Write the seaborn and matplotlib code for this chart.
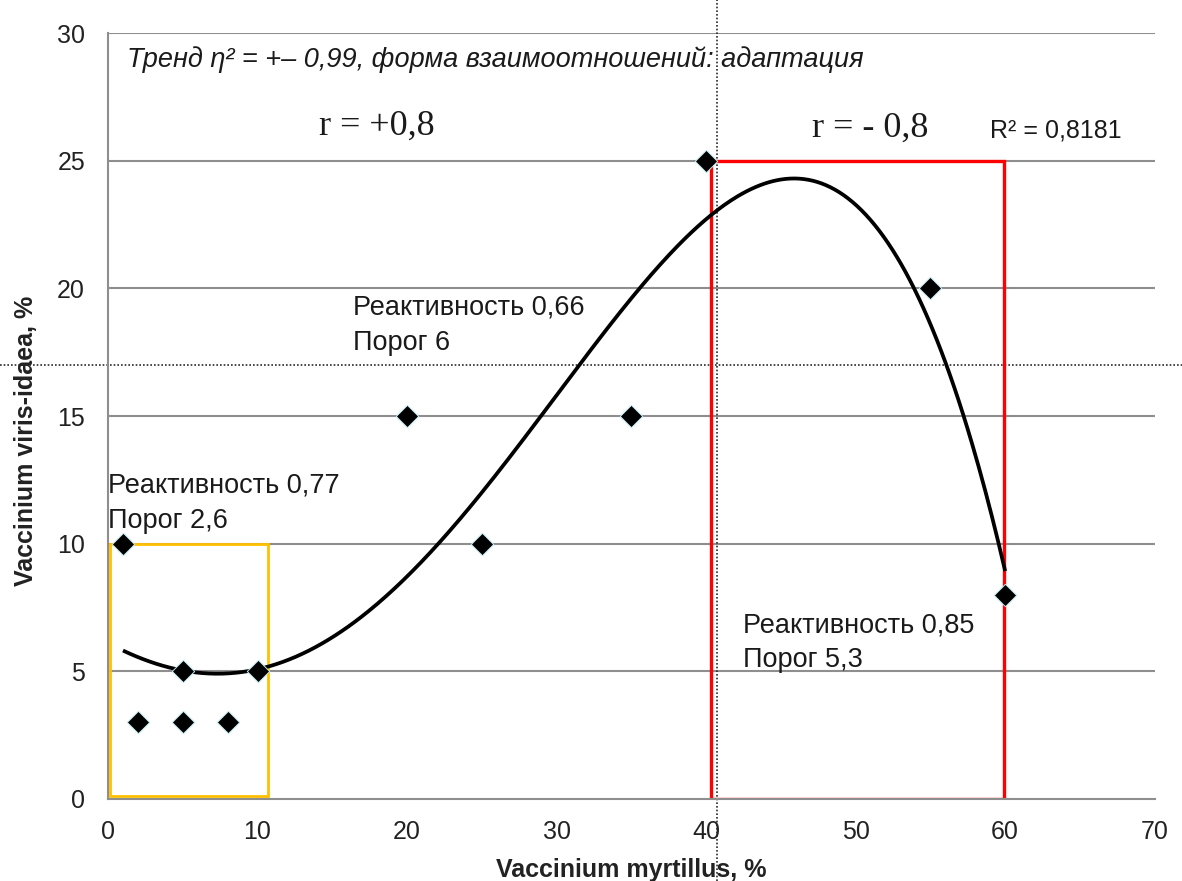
import numpy as np
import pandas as pd
import matplotlib
matplotlib.use("Agg")
import matplotlib.pyplot as plt
import seaborn as sns
from matplotlib.patches import Rectangle

# Observations: cover of Vaccinium myrtillus vs Vaccinium viris-idaea, %
myrtillus = [1, 2, 5, 5, 8, 10, 20, 25, 35, 40, 55, 60]
viris_idaea = [10, 3, 5, 3, 3, 5, 15, 10, 15, 25, 20, 8]

x_ticks = [0, 10, 20, 30, 40, 50, 60, 70]
y_ticks = [0, 5, 10, 15, 20, 25, 30]

# Zones of the relationship (x0, y0, x1, y1)
low_zone = (0.1, 0.1, 10.7, 10)
high_zone = (40.3, 0, 59.9, 25)
split_x = 40.7
split_y = 17.0
trend_degree = 4

sns.set_style("white")
plt.rcParams["font.family"] = ["Liberation Sans", "DejaVu Sans"]

df = pd.DataFrame({"myrtillus": myrtillus, "viris_idaea": viris_idaea})

fig = plt.figure(figsize=(11.82, 8.81), dpi=100)
ax = fig.add_axes([0.0914, 0.0931, 0.8855, 0.8694])

grid_c = "#8e8e8e"
for yv in y_ticks[1:]:
    ax.axhline(yv, color=grid_c, lw=1.5, zorder=0)

# Polynomial trend (4th order) fitted to the observations
xa = np.array(myrtillus, float)
ya = np.array(viris_idaea, float)
coef = np.polyfit(xa, ya, trend_degree)
xs = np.linspace(xa.min(), xa.max(), 400)
ax.plot(xs, np.polyval(coef, xs), color="black", lw=2.7, zorder=3,
        solid_capstyle="butt")

sns.scatterplot(data=df, x="myrtillus", y="viris_idaea", marker="D", s=130,
                color="black", edgecolor="#bfe9ee", linewidth=0.7, ax=ax, zorder=4)

ax.add_patch(Rectangle((low_zone[0], low_zone[1]), low_zone[2] - low_zone[0],
                       low_zone[3] - low_zone[1], fill=False, ec="#FFC000", lw=2.0,
                       zorder=2, clip_on=False))
ax.add_patch(Rectangle((high_zone[0], high_zone[1]), high_zone[2] - high_zone[0],
                       high_zone[3] - high_zone[1], fill=False, ec="#FF0000", lw=2.4,
                       zorder=2))

ax.axvline(split_x, ymin=-0.107, ymax=1.043, color="#2a2a2a", lw=1.2,
           ls=(0, (1, 1.2)), clip_on=False, zorder=1)
ax.axhline(split_y, xmin=-0.103, xmax=1.026, color="#2a2a2a", lw=1.2,
           ls=(0, (1, 1.2)), clip_on=False, zorder=1)

ax.set_xlim(0, 70)
ax.set_ylim(0, 30)
ax.set_xticks(x_ticks)
ax.set_yticks(y_ticks)
ax.tick_params(axis="both", length=0, labelsize=18, labelcolor="#222222")
ax.tick_params(axis="x", pad=15)
ax.tick_params(axis="y", pad=16.5)
for s in ("top", "right"):
    ax.spines[s].set_visible(False)
for s in ("left", "bottom"):
    ax.spines[s].set_color(grid_c)
    ax.spines[s].set_linewidth(1.5)

ax.set_xlabel("Vaccinium myrtillus, %", fontsize=18, fontweight="bold",
              color="#222222")
ax.set_ylabel("Vaccinium viris-idaea, %", fontsize=18, fontweight="bold",
              color="#222222")
ax.xaxis.set_label_coords(0.5, -0.077)
ax.yaxis.set_label_coords(-0.067, 0.467)

txt_c = "#1a1a1a"
ax.text(0.018, 0.9556, "Тренд η² = +– 0,99, форма взаимоотношений: адаптация",
        transform=ax.transAxes, fontsize=19.5, style="italic", color=txt_c,
        va="baseline")
ax.text(18.0, 26.0, "r = +0,8", family="Liberation Serif", fontsize=26,
        ha="center", va="baseline", color=txt_c)
ax.text(50.97, 25.95, "r = - 0,8", family="Liberation Serif", fontsize=26,
        ha="center", va="baseline", color=txt_c)
ax.text(59.0, 25.9, "R² = 0,8181", fontsize=18, ha="left", va="baseline",
        color=txt_c)


def zone_note(x, y, lines, step=1.36):
    for i, line in enumerate(lines):
        ax.text(x, y - i * step, line, fontsize=19.5, ha="left", va="baseline",
                color=txt_c, zorder=5)


zone_note(16.4, 18.96, ["Реактивность 0,66", "Порог 6"])
zone_note(0.03, 11.99, ["Реактивность 0,77", "Порог 2,6"])
zone_note(42.47, 6.54, ["Реактивность 0,85", "Порог 5,3"])

fig.savefig("out.png", dpi=100)
